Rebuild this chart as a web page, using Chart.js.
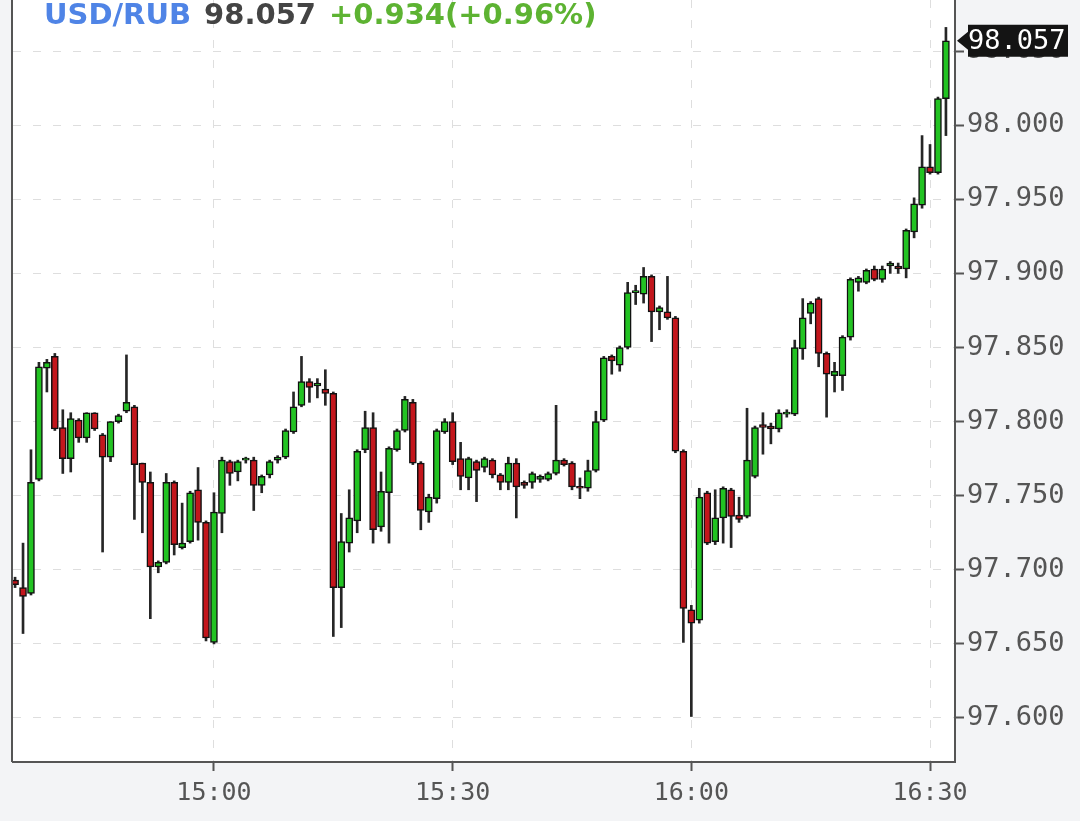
<!DOCTYPE html>
<html>
<head>
<meta charset="utf-8">
<script src="https://cdn.jsdelivr.net/npm/chart.js@4.4.0/dist/chart.umd.min.js"></script>
<style>
  html, body { margin: 0; padding: 0; background: #f3f4f6; }
  #wrap { width: 1080px; height: 821px; }
</style>
</head>
<body>
<div id="wrap"><canvas id="chart" width="1080" height="821"></canvas></div>
<script>
// header
const symbol = 'USD/RUB';
const lastPrice = '98.057';
const change = '+0.934(+0.96%)';

// 1-minute candles, first one at 14:35
const startTime = '14:35';

const opens = [
  97.693, 97.688, 97.684, 97.761, 97.836, 97.844, 97.796, 97.775, 97.801, 97.789,
  97.806, 97.791, 97.776, 97.800, 97.807, 97.810, 97.772, 97.759, 97.702, 97.705,
  97.759, 97.715, 97.719, 97.754, 97.732, 97.651, 97.738, 97.773, 97.766, 97.774,
  97.774, 97.757, 97.764, 97.774, 97.776, 97.793, 97.811, 97.827, 97.824, 97.822,
  97.819, 97.688, 97.718, 97.733, 97.781, 97.796, 97.729, 97.752, 97.781, 97.794,
  97.813, 97.772, 97.739, 97.748, 97.793, 97.800, 97.775, 97.762, 97.773, 97.769,
  97.774, 97.764, 97.759, 97.772, 97.759, 97.759, 97.761, 97.761, 97.765, 97.774,
  97.772, 97.756, 97.755, 97.767, 97.801, 97.844, 97.838, 97.850, 97.887, 97.886,
  97.898, 97.874, 97.874, 97.870, 97.780, 97.673, 97.666, 97.752, 97.719, 97.735,
  97.754, 97.737, 97.736, 97.763, 97.798, 97.797, 97.795, 97.805, 97.805, 97.849,
  97.873, 97.883, 97.846, 97.831, 97.831, 97.857, 97.894, 97.894, 97.903, 97.896,
  97.905, 97.905, 97.903, 97.928, 97.946, 97.972, 97.968, 98.018
];
const highs = [
  97.695, 97.718, 97.781, 97.840, 97.842, 97.846, 97.808, 97.806, 97.802, 97.806,
  97.806, 97.792, 97.800, 97.805, 97.845, 97.811, 97.772, 97.766, 97.706, 97.765,
  97.760, 97.745, 97.753, 97.769, 97.733, 97.752, 97.776, 97.774, 97.774, 97.776,
  97.776, 97.764, 97.774, 97.777, 97.795, 97.820, 97.844, 97.829, 97.829, 97.835,
  97.820, 97.738, 97.754, 97.781, 97.807, 97.806, 97.766, 97.783, 97.795, 97.817,
  97.815, 97.773, 97.751, 97.795, 97.802, 97.806, 97.786, 97.776, 97.774, 97.776,
  97.775, 97.765, 97.776, 97.775, 97.760, 97.766, 97.764, 97.766, 97.811, 97.775,
  97.773, 97.762, 97.774, 97.807, 97.844, 97.845, 97.851, 97.894, 97.892, 97.904,
  97.899, 97.878, 97.898, 97.871, 97.781, 97.676, 97.755, 97.753, 97.754, 97.756,
  97.755, 97.749, 97.809, 97.797, 97.806, 97.799, 97.808, 97.808, 97.855, 97.883,
  97.881, 97.884, 97.847, 97.840, 97.858, 97.897, 97.898, 97.903, 97.905, 97.905,
  97.908, 97.907, 97.930, 97.951, 97.993, 97.987, 98.019, 98.066
];
const lows = [
  97.688, 97.657, 97.683, 97.760, 97.820, 97.794, 97.765, 97.766, 97.786, 97.786,
  97.794, 97.712, 97.773, 97.799, 97.806, 97.734, 97.725, 97.667, 97.698, 97.704,
  97.710, 97.714, 97.718, 97.720, 97.652, 97.650, 97.725, 97.757, 97.760, 97.772,
  97.740, 97.752, 97.762, 97.772, 97.775, 97.792, 97.810, 97.813, 97.816, 97.811,
  97.655, 97.661, 97.712, 97.725, 97.779, 97.718, 97.726, 97.718, 97.780, 97.793,
  97.771, 97.727, 97.732, 97.745, 97.792, 97.771, 97.754, 97.754, 97.746, 97.766,
  97.762, 97.754, 97.754, 97.735, 97.755, 97.755, 97.759, 97.760, 97.764, 97.770,
  97.754, 97.748, 97.753, 97.766, 97.800, 97.832, 97.834, 97.849, 97.879, 97.880,
  97.854, 97.862, 97.869, 97.779, 97.651, 97.601, 97.664, 97.717, 97.717, 97.718,
  97.715, 97.732, 97.735, 97.762, 97.778, 97.785, 97.793, 97.803, 97.804, 97.842,
  97.866, 97.837, 97.803, 97.820, 97.821, 97.855, 97.888, 97.893, 97.895, 97.894,
  97.900, 97.900, 97.897, 97.924, 97.944, 97.967, 97.967, 97.993
];
const closes = [
  97.690, 97.682, 97.759, 97.837, 97.840, 97.795, 97.775, 97.802, 97.789, 97.806,
  97.795, 97.776, 97.800, 97.804, 97.813, 97.771, 97.759, 97.702, 97.705, 97.759,
  97.717, 97.718, 97.752, 97.732, 97.654, 97.739, 97.774, 97.765, 97.773, 97.775,
  97.757, 97.763, 97.773, 97.776, 97.794, 97.810, 97.827, 97.823, 97.826, 97.819,
  97.688, 97.719, 97.735, 97.780, 97.796, 97.727, 97.753, 97.782, 97.794, 97.815,
  97.772, 97.740, 97.749, 97.794, 97.800, 97.773, 97.763, 97.775, 97.767, 97.775,
  97.764, 97.759, 97.772, 97.756, 97.757, 97.765, 97.763, 97.765, 97.774, 97.771,
  97.756, 97.755, 97.767, 97.800, 97.843, 97.841, 97.850, 97.887, 97.888, 97.898,
  97.874, 97.877, 97.870, 97.780, 97.674, 97.664, 97.749, 97.718, 97.735, 97.755,
  97.736, 97.734, 97.774, 97.796, 97.796, 97.795, 97.806, 97.806, 97.850, 97.870,
  97.880, 97.846, 97.832, 97.834, 97.857, 97.896, 97.897, 97.902, 97.896, 97.903,
  97.907, 97.903, 97.929, 97.947, 97.972, 97.968, 98.018, 98.057
];

const yTicks = [97.60, 97.65, 97.70, 97.75, 97.80, 97.85, 97.90, 97.95, 98.00, 98.05];
const xTickLabels = ['15:00', '15:30', '16:00', '16:30'];

const GREEN = '#22c322';
const RED = '#c3161c';

function toMin(s) {
  const p = s.split(':');
  return +p[0] * 60 + +p[1];
}
function fmtTime(m) {
  const h = Math.floor(m / 60), mm = Math.round(m % 60);
  return h + ':' + String(mm).padStart(2, '0');
}

const t0 = toMin(startTime);
const bodies = opens.map((o, i) => ({ x: t0 + i, y: [o, closes[i]] }));
const wicks = lows.map((l, i) => ({ x: t0 + i, y: [l, highs[i]] }));
const colors = opens.map((o, i) => closes[i] >= o ? GREEN : RED);

// no extra padding around the plot for the tick labels
function noPad(s) {
  s.paddingTop = 0;
  s.paddingBottom = 0;
  s.paddingLeft = 0;
  s.paddingRight = 0;
}

const decor = {
  id: 'decor',
  beforeDraw(chart) {
    const { ctx, chartArea: a } = chart;
    ctx.save();
    ctx.fillStyle = '#ffffff';
    ctx.fillRect(a.left, a.top, a.right - a.left, a.bottom - a.top);
    ctx.restore();
  },
  afterDraw(chart) {
    const { ctx, chartArea: a } = chart;
    ctx.save();
    // left border
    ctx.strokeStyle = '#555';
    ctx.lineWidth = 2;
    ctx.beginPath();
    ctx.moveTo(a.left - 1, a.top);
    ctx.lineTo(a.left - 1, a.bottom);
    ctx.stroke();

    // title
    ctx.font = 'bold 29px "DejaVu Sans"';
    ctx.textBaseline = 'alphabetic';
    let x = 44;
    ctx.fillStyle = '#4f84e6';
    ctx.fillText(symbol, x, 24);
    x += ctx.measureText(symbol).width + 13;
    ctx.fillStyle = '#444';
    ctx.fillText(lastPrice, x, 24);
    x += ctx.measureText(lastPrice).width + 13;
    ctx.fillStyle = '#5db332';
    ctx.fillText(change, x, 24);

    // last price tag
    const y = chart.scales.y.getPixelForValue(closes[closes.length - 1]);
    const bx = a.right + 13;
    ctx.fillStyle = '#141414';
    ctx.beginPath();
    ctx.moveTo(a.right + 2, y);
    ctx.lineTo(bx, y - 9);
    ctx.lineTo(bx, y - 16);
    ctx.lineTo(1068, y - 16);
    ctx.lineTo(1068, y + 16);
    ctx.lineTo(bx, y + 16);
    ctx.lineTo(bx, y + 9);
    ctx.closePath();
    ctx.fill();
    ctx.fillStyle = '#fff';
    ctx.font = '27px "DejaVu Sans Mono"';
    ctx.textBaseline = 'middle';
    ctx.fillText(lastPrice, bx, y + 1);
    ctx.restore();
  }
};

new Chart(document.getElementById('chart'), {
  type: 'bar',
  data: {
    datasets: [
      {
        data: bodies,
        backgroundColor: colors,
        borderColor: '#111',
        borderWidth: 1.5,
        borderSkipped: false,
        barThickness: 7,
        minBarLength: 2,
        grouped: false,
        order: 0
      },
      {
        data: wicks,
        backgroundColor: '#262626',
        borderWidth: 0,
        barThickness: 2,
        grouped: false,
        order: 1
      }
    ]
  },
  options: {
    responsive: false,
    animation: false,
    layout: { padding: { left: 13, top: 0, right: 0, bottom: 0 } },
    plugins: { legend: { display: false }, tooltip: { enabled: false } },
    scales: {
      x: {
        type: 'linear',
        min: 874.74,
        max: 993.14,
        offset: false,
        afterBuildTicks: s => { s.ticks = xTickLabels.map(t => ({ value: toMin(t) })); },
        afterFit: s => { s.height = 59; noPad(s); },
        ticks: {
          callback: v => fmtTime(v),
          color: '#555',
          font: { family: 'DejaVu Sans Mono', size: 25 },
          padding: 7,
          maxRotation: 0,
          autoSkip: false
        },
        grid: {
          color: '#dedede',
          offset: false,
          tickLength: 9,
          tickColor: '#555',
          tickWidth: 2
        },
        border: { color: '#555', width: 2, dash: [8, 12] }
      },
      y: {
        position: 'right',
        min: 97.5703,
        max: 98.0845,
        afterBuildTicks: s => { s.ticks = yTicks.map(v => ({ value: v })); },
        afterFit: s => { s.width = 125; noPad(s); },
        ticks: {
          callback: v => v.toFixed(3),
          color: '#555',
          font: { family: 'DejaVu Sans Mono', size: 27 },
          padding: 3
        },
        grid: {
          color: '#dedede',
          tickLength: 9,
          tickColor: '#555',
          tickWidth: 2
        },
        border: { color: '#555', width: 2, dash: [8, 12] }
      }
    }
  },
  plugins: [decor]
});
</script>
</body>
</html>
